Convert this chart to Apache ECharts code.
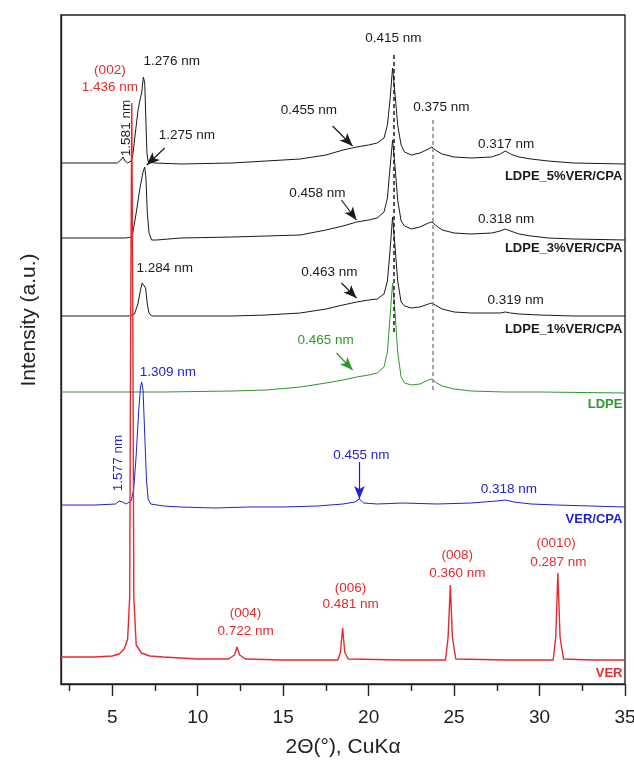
<!DOCTYPE html>
<html lang="en">
<head>
<meta charset="UTF-8">
<title>XRD</title>
<script src="https://cdn.jsdelivr.net/npm/echarts@6/dist/echarts.min.js"></script>
</head>
<body style="margin:0">
<div id="main" style="width:634px;height:760px;"></div>
<script>
// 2θ (deg) vs relative intensity (a.u.), each curve shifted by its own offset
var offsets = { p5: 521, p3: 446, p1: 368, ldpe: 292, vercpa: 179, ver: 27 }

var ldpe5 = [[2,0],[4,0],[5.3,0],[5.5,3],[5.63,6],[5.75,2],[5.9,0],[6.1,2],[6.2,8],[6.35,30],[6.5,52],[6.62,63],[6.72,70],[6.82,86],[6.9,80],[6.97,40],[7.03,10],[7.1,1],[7.5,0],[9,-1],[12,0],[14,2],[16,4],[17.5,8],[18.5,13],[19.3,16],[20,18],[20.5,20],[20.9,25],[21.1,38],[21.25,63],[21.4,95],[21.55,68],[21.7,38],[21.9,18],[22.1,11],[22.5,8],[23,10],[23.5,14],[23.7,16],[23.9,13],[24.3,9],[25,6],[26,5],[27.2,6],[27.7,9],[28,12],[28.3,9],[28.8,6],[29.5,4],[30.5,2],[32,0],[35,-1]]
var ldpe3 = [[2,0],[5.8,0],[6.1,1],[6.2,5],[6.4,25],[6.6,48],[6.8,66],[6.9,71],[6.97,60],[7.05,25],[7.15,5],[7.3,-2],[7.6,-2],[9,0],[12,1],[14,2],[16,3],[17.5,8],[18.5,12],[19.3,16],[20,18],[20.5,20],[20.9,26],[21.1,40],[21.25,70],[21.4,98],[21.55,70],[21.7,38],[21.9,17],[22.1,12],[22.5,9],[23,11],[23.5,15],[23.7,16],[23.9,13],[24.3,8],[25,5],[26,4],[27.2,5],[27.7,7],[28,9],[28.3,7],[28.8,4],[29.5,2],[30.5,0],[32,-1],[35,-2]]
var ldpe1 = [[2,0],[6,0],[6.3,2],[6.5,12],[6.65,26],[6.75,33],[6.85,34],[6.95,28],[7.05,12],[7.15,3],[7.3,0],[9,0],[12,0],[14,1],[16,3],[17.5,7],[18.5,11],[19.3,14],[20,16],[20.5,17],[20.9,22],[21.1,35],[21.25,65],[21.4,99],[21.55,68],[21.7,35],[21.9,14],[22.1,10],[22.5,8],[23,9],[23.5,12],[23.7,13],[23.9,11],[24.3,7],[25,4],[26,3],[27.2,3],[27.7,3],[28,4],[28.3,3],[28.8,2],[30,1],[32,0],[35,0]]
var ldpe = [[2,0],[8,0],[12,1],[14,2],[16,5],[17.5,9],[18.5,12],[19.3,15],[20,17],[20.5,19],[20.9,25],[21.1,40],[21.25,75],[21.4,109],[21.55,78],[21.7,40],[21.9,15],[22.1,9],[22.5,7],[23,8],[23.5,12],[23.7,13],[23.9,10],[24.3,6],[25,3],[26,1],[28,0],[30,0],[35,-1]]
var verCpa = [[2,0],[4,0],[5.2,1],[5.4,4],[5.5,5],[5.6,3],[5.8,1],[6.1,4],[6.25,15],[6.4,50],[6.55,95],[6.65,118],[6.72,123],[6.8,115],[6.9,70],[7,25],[7.1,6],[7.25,1],[8,-1],[9,-2],[11,-3],[13,-2],[15,-2],[17,-1],[18.5,1],[19.2,3],[19.45,6],[19.7,2],[20.5,1],[22,2],[24,1],[26,2],[27.5,4],[28,5],[28.5,3],[29.5,1],[31,0],[33,-1],[35,-2]]
var ver = [[2,0],[4,0],[5,1],[5.4,3],[5.7,8],[5.9,18],[6.02,60],[6.08,350],[6.14,554],[6.2,350],[6.26,60],[6.4,12],[6.7,4],[7.2,1],[8,0],[10,-2],[11.8,-2],[12.15,2],[12.3,10],[12.45,2],[12.8,-2],[15,-3],[18.2,-3],[18.35,5],[18.48,29],[18.6,5],[18.8,-2],[22,-3],[24.5,-3],[24.65,20],[24.78,72],[24.9,20],[25.1,-2],[28,-3],[30.8,-3],[30.95,20],[31.07,84],[31.2,20],[31.4,-2],[33,-3],[35,-3]]

var majorTicks = [5, 10, 15, 20, 25, 30, 35]
var minorTicks = [2.5, 7.5, 12.5, 17.5, 22.5, 27.5, 32.5]

var cBlack = '#1a1a1a', cGreen = '#2a9a2a', cBlue = '#2020d8', cRed = '#e8282c'
var fontFam = '"Liberation Sans", Arial, sans-serif'

// annotations: [text, 2θ, a.u., colour, align, bold, rotated]
var notes = [
    ['1.276 nm', 8.48, 623, cBlack],
    ['(002)', 4.86, 614, cRed],
    ['1.436 nm', 4.86, 597, cRed],
    ['1.581 nm', 5.8, 556, cBlack, 'center', false, true],
    ['1.275 nm', 9.36, 549, cBlack],
    ['0.455 nm', 16.5, 574, cBlack],
    ['0.415 nm', 21.45, 646, cBlack],
    ['0.375 nm', 24.25, 577, cBlack],
    ['0.317 nm', 28.05, 540, cBlack],
    ['LDPE_5%VER/CPA', 34.85, 508, cBlack, 'right', true],
    ['0.458 nm', 17.0, 491, cBlack],
    ['0.318 nm', 28.05, 465, cBlack],
    ['LDPE_3%VER/CPA', 34.85, 436, cBlack, 'right', true],
    ['1.284 nm', 8.07, 416, cBlack],
    ['0.463 nm', 17.7, 412, cBlack],
    ['0.319 nm', 28.6, 384, cBlack],
    ['LDPE_1%VER/CPA', 34.85, 355, cBlack, 'right', true],
    ['0.465 nm', 17.48, 344, cGreen],
    ['LDPE', 34.85, 280, cGreen, 'right', true],
    ['1.309 nm', 8.25, 312, cBlue],
    ['1.577 nm', 5.38, 221, cBlue, 'center', false, true],
    ['0.455 nm', 19.58, 229, cBlue],
    ['0.318 nm', 28.2, 195, cBlue],
    ['VER/CPA', 34.85, 165, cBlue, 'right', true],
    ['(004)', 12.8, 71, cRed],
    ['0.722 nm', 12.8, 53, cRed],
    ['(006)', 18.94, 96, cRed],
    ['0.481 nm', 18.94, 80, cRed],
    ['(008)', 25.19, 129, cRed],
    ['0.360 nm', 25.19, 111, cRed],
    ['(0010)', 30.97, 141, cRed],
    ['0.287 nm', 31.1, 122, cRed],
    ['VER', 34.85, 11, cRed, 'right', true]
]

// arrows: [x1, y1, x2, y2, colour]
var arrows = [
    [8.07, 536, 7.02, 519, cBlack],
    [17.89, 558, 19.06, 538, cBlack],
    [18.41, 484, 19.29, 464, cBlack],
    [18.41, 401, 19.29, 386, cBlack],
    [18.12, 331, 19.06, 314, cGreen],
    [19.46, 222, 19.46, 185, cBlue]
]

function shift(arr, off) {
    return arr.map(function (p) { return [p[0], p[1] + off] })
}

function arrowLines(col) {
    return arrows.filter(function (a) { return a[4] === col }).map(function (a) {
        return [{ coord: [a[0], a[1]] }, { coord: [a[2], a[3]] }]
    })
}

function curve(name, data, off, color, width, extraLines) {
    // black arrows all hang on the top curve
    var lines = arrowLines(color === cBlack && name !== 'LDPE_5%VER/CPA' ? null : color)
    var s = {
        name: name,
        type: 'line',
        data: shift(data, off),
        showSymbol: false,
        lineStyle: { color: color, width: width },
        itemStyle: { color: color },
        animation: false
    }
    if (lines.length || extraLines) {
        s.markLine = {
            silent: true,
            animation: false,
            symbol: ['none', 'arrow'],
            symbolSize: [8, 13],
            label: { show: false },
            lineStyle: { color: color, type: 'solid', width: 1.2 },
            data: lines.concat(extraLines || [])
        }
    }
    return s
}

var dashed = [
    [{ coord: [21.45, 629], symbol: 'none', lineStyle: { type: [4, 3], color: cBlack, width: 1.5 } },
     { coord: [21.45, 352], symbol: 'none' }],
    [{ coord: [23.75, 564], symbol: 'none', lineStyle: { type: [4, 3], color: '#888', width: 1.5 } },
     { coord: [23.75, 292], symbol: 'none' }]
]

var myChart = echarts.init(document.getElementById('main'))
var option = {
    backgroundColor: '#fff',
    grid: {
        left: 61, right: 9, top: 15, bottom: 76,
        outerBoundsMode: 'none', containLabel: false,
        show: true, borderColor: '#222', borderWidth: 1.4
    },
    xAxis: [{
        type: 'value', min: 2, max: 35, position: 'bottom',
        name: '2Θ(°), CuKα', nameLocation: 'middle', nameGap: 53,
        nameTextStyle: { fontSize: 21, color: '#222', fontFamily: fontFam },
        axisLine: { show: true, lineStyle: { color: '#222', width: 1.4 } },
        axisTick: { show: true, customValues: majorTicks, length: 12, lineStyle: { color: '#222', width: 1.4 } },
        axisLabel: { customValues: majorTicks, margin: 24, fontSize: 19, color: '#222', fontFamily: fontFam },
        splitLine: { show: false }
    }, {
        type: 'value', min: 2, max: 35, position: 'bottom',
        axisLine: { show: false },
        axisTick: { show: true, customValues: minorTicks, length: 7, lineStyle: { color: '#222', width: 1.4 } },
        axisLabel: { show: false },
        splitLine: { show: false }
    }],
    yAxis: {
        type: 'value', min: 0, max: 669,
        axisLine: { show: true, lineStyle: { color: '#222', width: 1.4 } },
        axisTick: { show: false },
        axisLabel: { show: false },
        splitLine: { show: false }
    },
    series: [
        curve('LDPE_5%VER/CPA', ldpe5, offsets.p5, cBlack, 1, dashed),
        curve('LDPE_3%VER/CPA', ldpe3, offsets.p3, cBlack, 1),
        curve('LDPE_1%VER/CPA', ldpe1, offsets.p1, cBlack, 1),
        curve('LDPE', ldpe, offsets.ldpe, cGreen, 1),
        curve('VER/CPA', verCpa, offsets.vercpa, cBlue, 1),
        curve('VER', ver, offsets.ver, cRed, 1.4)
    ]
}
myChart.setOption(option)

// text annotations placed in data coordinates
var graphics = notes.map(function (n) {
    var p = myChart.convertToPixel({ gridIndex: 0 }, [n[1], n[2]])
    return {
        type: 'text',
        x: p[0], y: p[1],
        rotation: n[6] ? Math.PI / 2 : 0,
        z: 100,
        style: {
            text: n[0], x: 0, y: 0,
            fill: n[3],
            font: (n[5] ? 'bold 13px ' : '13.5px ') + fontFam,
            align: n[4] || 'center',
            verticalAlign: 'middle'
        }
    }
})
graphics.push({
    type: 'text', x: 29, y: 320, rotation: Math.PI / 2,
    style: { text: 'Intensity (a.u.)', x: 0, y: 0, fill: '#222', font: '21px ' + fontFam, align: 'center', verticalAlign: 'middle' }
})
myChart.setOption({ graphic: graphics })
</script>
</body>
</html>
